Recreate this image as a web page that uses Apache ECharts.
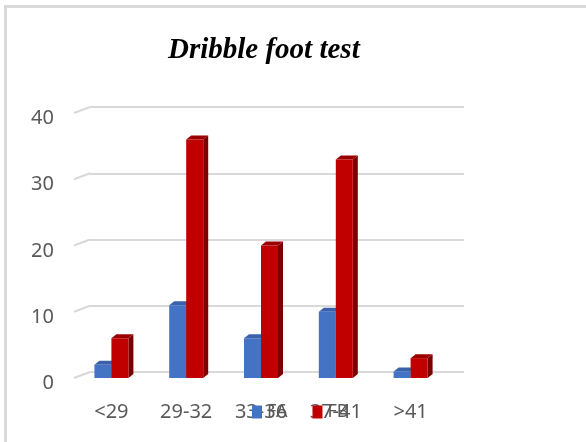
<!DOCTYPE html>
<html>
<head>
<meta charset="utf-8">
<script src="https://cdn.jsdelivr.net/npm/echarts@6/dist/echarts.min.js"></script>
<style>
	html, body { margin: 0; padding: 0; background: #fff; width: 586px; height: 442px; overflow: hidden; }
	.edge { position: absolute; background: #d9d9d9; }
	#edgeLeft { left: 4px; top: 5px; width: 3px; height: 437px; }
	#edgeTop { left: 4px; top: 5px; width: 582px; height: 3px; }
	#box { position: absolute; left: 0; top: 0; width: 586px; height: 442px; }
</style>
</head>
<body>
<div class="edge" id="edgeLeft"></div>
<div class="edge" id="edgeTop"></div>
<div id="box"></div>
<script>
var categories = ['<29', '29-32', '33-36', '37-41', '>41'];
var faValues = [2, 11, 6, 10, 1];
var fbValues = [6, 36, 20, 33, 3];
var yTicks = [0, 10, 20, 30, 40];

var BAR_W = 17;
// depth of the 3D bars and of the back wall
var DEPTH_X = 5, DEPTH_Y = 4;
var WALL_X = 16, WALL_Y = 6;

var dom = document.getElementById('box');
var myChart = echarts.init(dom);

// side and top faces of a bar, drawn from the same scales as the bar
function depthSeries(name, values, offset, sideColor, topColor) {
	return {
		name: name,
		type: 'custom',
		xAxisIndex: 0,
		yAxisIndex: 0,
		z: 2,
		silent: true,
		data: values.map(function (v, i) { return [i, v]; }),
		renderItem: function (params, api) {
			var p = api.coord([api.value(0), api.value(1)]);
			var base = api.coord([api.value(0), 0]);
			var x0 = p[0] + offset;
			var x1 = x0 + BAR_W;
			return {
				type: 'group',
				children: [{
					type: 'polygon',
					shape: { points: [[x1, p[1]], [x1 + DEPTH_X, p[1] - DEPTH_Y], [x1 + DEPTH_X, base[1] - DEPTH_Y], [x1, base[1]]] },
					style: { fill: sideColor }
				}, {
					type: 'polygon',
					shape: { points: [[x0, p[1]], [x0 + DEPTH_X, p[1] - DEPTH_Y], [x1 + DEPTH_X, p[1] - DEPTH_Y], [x1, p[1]]] },
					style: { fill: topColor }
				}]
			};
		}
	};
}

var option = {
	animation: false,
	title: {
		text: 'Dribble foot test',
		left: 163,
		top: 31,
		textStyle: {
			fontFamily: 'Liberation Serif',
			fontStyle: 'italic',
			fontWeight: 'bold',
			fontSize: 29,
			color: '#000'
		}
	},
	legend: {
		data: [{ name: 'FA', icon: 'rect' }, { name: 'FB', icon: 'rect' }],
		left: 247,
		top: 398,
		itemWidth: 10,
		itemHeight: 13,
		itemGap: 25,
		textStyle: { fontFamily: 'Noto Sans', fontSize: 18, color: '#595959' }
	},
	grid: [
		{ left: 74, right: 138, top: 113, bottom: 64, outerBoundsMode: 'none' },
		{ left: 74 + WALL_X, right: 138 - WALL_X, top: 113 - WALL_Y, bottom: 64 + WALL_Y, outerBoundsMode: 'none' }
	],
	xAxis: [{
		gridIndex: 0,
		type: 'category',
		data: categories,
		axisLine: { show: false },
		axisTick: { show: false },
		axisLabel: { margin: 24, fontFamily: 'Noto Sans', fontSize: 20, color: '#595959' }
	}, {
		gridIndex: 1,
		type: 'category',
		data: categories,
		show: false
	}],
	yAxis: [{
		gridIndex: 0,
		type: 'value',
		min: 0,
		max: 40,
		interval: 10,
		splitLine: { show: false },
		axisLabel: { margin: 20, verticalAlign: 'top', lineHeight: 11, fontFamily: 'Noto Sans', fontSize: 20, color: '#595959' }
	}, {
		gridIndex: 1,
		type: 'value',
		min: 0,
		max: 40,
		interval: 10,
		axisLabel: { show: false },
		axisLine: { show: false },
		axisTick: { show: false },
		splitLine: { lineStyle: { color: '#d9d9d9', width: 2 } }
	}],
	series: [{
			name: 'wall',
			type: 'custom',
			xAxisIndex: 0,
			yAxisIndex: 0,
			z: 1,
			silent: true,
			data: yTicks.map(function (v) { return [0, v]; }),
			renderItem: function (params, api) {
				var y = api.coord([0, api.value(1)])[1];
				var x = params.coordSys.x;
				return {
					type: 'line',
					shape: { x1: x, y1: y, x2: x + WALL_X, y2: y - WALL_Y },
					style: { stroke: '#d9d9d9', lineWidth: 2 }
				};
			}
		},
		depthSeries('FA depth', faValues, -BAR_W, '#2f528f', '#3a62ab'),
		depthSeries('FB depth', fbValues, 0, '#7a0000', '#9a0000'),
		{
			name: 'FA',
			type: 'bar',
			xAxisIndex: 0,
			yAxisIndex: 0,
			z: 3,
			barWidth: BAR_W,
			barGap: '0%',
			itemStyle: { color: '#4472c4' },
			data: faValues
		},
		{
			name: 'FB',
			type: 'bar',
			xAxisIndex: 0,
			yAxisIndex: 0,
			z: 3,
			barWidth: BAR_W,
			barGap: '0%',
			itemStyle: { color: '#c00000' },
			data: fbValues
		}
	]
};

myChart.setOption(option);
</script>
</body>
</html>
